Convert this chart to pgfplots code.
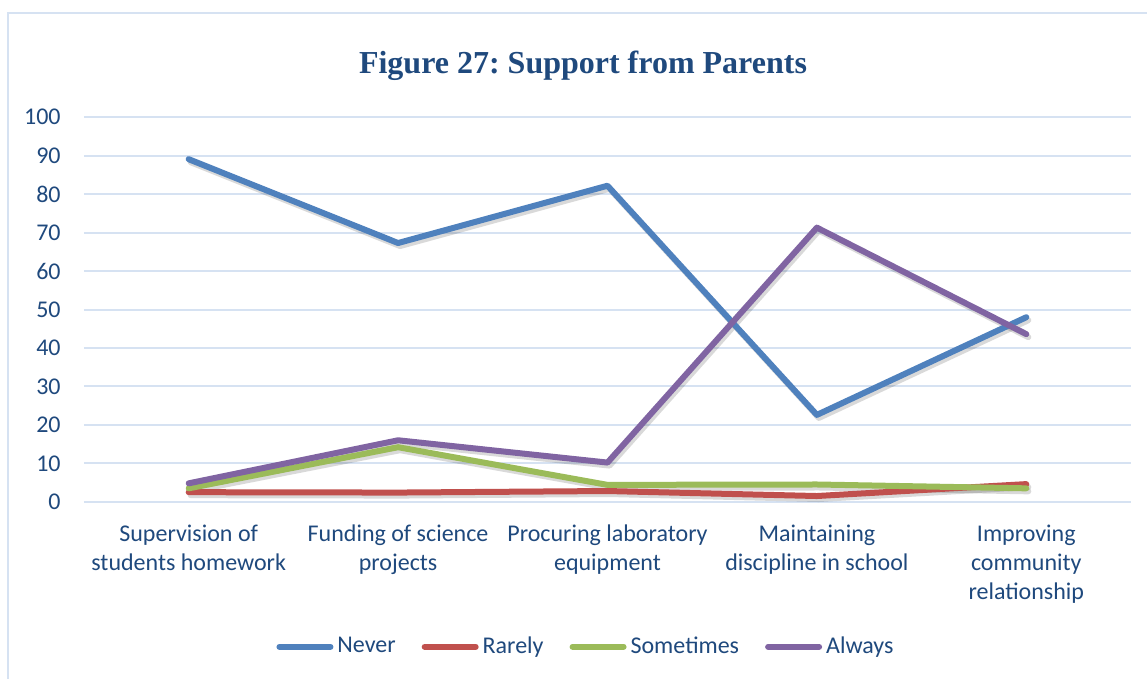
\documentclass[border=0pt]{standalone}
\usepackage{fontspec}
\setmainfont{Carlito}
\newfontfamily\titlefont{Liberation Serif}
\usepackage{pgfplots}
\usepackage{pgfplotstable}
\pgfplotsset{compat=1.18}

\definecolor{never}{HTML}{4F81BD}
\definecolor{rarely}{HTML}{C0504D}
\definecolor{sometimes}{HTML}{9BBB59}
\definecolor{always}{HTML}{8064A2}
\definecolor{textcol}{HTML}{1F497D}
\definecolor{gridcol}{HTML}{D6E2F2}

% percentages per item
\pgfplotstableread{
x never rarely sometimes always
0 89.1 2.5 3.5 4.8
1 67.3 2.4 14.2 16.0
2 82.2 2.8 4.4 10.2
3 22.6 1.5 4.5 71.3
4 48.0 4.6 3.5 43.6
}\parentdata

\begin{document}
\frenchspacing
\begin{tikzpicture}[x=1pt,y=1pt]
\useasboundingbox (0,0) rectangle (573.5,339.5);
\draw[gridcol, line width=1pt] (3.75,0) -- (3.75,333.2) -- (573.5,333.2);
\begin{axis}[
    at={(42pt,88.6pt)}, anchor=south west,
    scale only axis, width=523.5pt, height=192.25pt,
    xmin=-0.5, xmax=4.5, ymin=0, ymax=100,
    ytick={0,10,...,100},
    xtick={0,1,2,3,4},
    xticklabels={Supervision of\\students homework, Funding of science\\projects,
        Procuring laboratory\\equipment, Maintaining\\discipline in school,
        Improving\\community\\relationship},
    minor xtick={-0.5,0.5,1.5,2.5,3.5,4.5},
    separate axis lines,
    axis x line*=bottom, axis y line*=left,
    y axis line style={draw=none},
    x axis line style={gridcol, line width=1pt},
    ytick style={draw=none}, xtick style={draw=none},
    minor tick style={gridcol, line width=1pt},
    major tick length=0pt, minor tick length=3.5pt, tick align=outside,
    ymajorgrids=true, grid style={gridcol, line width=1pt},
    /pgf/number format/assume math mode=true,
    tick label style={font=\fontsize{12}{14.5}\selectfont, text=textcol},
    yticklabel style={anchor=east, inner sep=0pt, xshift=-11.5pt},
    xticklabel style={align=center, anchor=north, inner sep=0pt, yshift=-11.3pt},
    no markers, clip=false,
    legend columns=4,
    legend style={at={(0.4804,-0.377)}, anchor=center, draw=none,
        font=\fontsize{12}{14}\selectfont, text=textcol,
        /tikz/every even column/.append style={column sep=11pt}},
    legend image code/.code={\draw[#1, line width=3pt, line cap=round] (1.5pt,0pt) -- (27pt,0pt);},
    shadow/.style={draw=black, draw opacity=0.15, line width=3pt, line cap=round,
        line join=round, transform canvas={xshift=1pt,yshift=-1.5pt}, forget plot},
    every axis plot/.append style={line width=3pt, line cap=round, line join=round},
]
\addplot[shadow] table[x=x,y=never]{\parentdata};
\addplot[shadow] table[x=x,y=rarely]{\parentdata};
\addplot[shadow] table[x=x,y=sometimes]{\parentdata};
\addplot[shadow] table[x=x,y=always]{\parentdata};
\addplot[never] table[x=x,y=never]{\parentdata};
\addlegendentry{Never}
\addplot[rarely] table[x=x,y=rarely]{\parentdata};
\addlegendentry{Rarely}
\addplot[sometimes] table[x=x,y=sometimes]{\parentdata};
\addlegendentry{Sometimes}
\addplot[always] table[x=x,y=always]{\parentdata};
\addlegendentry{Always}
\end{axis}
\node[font=\titlefont\bfseries\fontsize{16}{19}\selectfont, text=textcol] at (291.5,306.5) {Figure 27: Support from Parents};
\end{tikzpicture}
\end{document}
